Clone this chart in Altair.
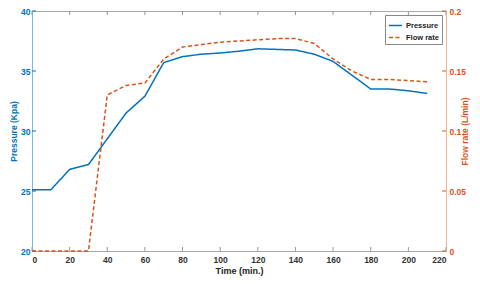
import altair as alt
import pandas as pd

time = [0, 10, 20, 30, 40, 50, 60, 70, 80, 90, 100, 110, 120, 130, 140, 150, 160, 170, 180, 190, 200, 210]
pressure = [25.1, 25.1, 26.8, 27.2, 29.35, 31.5, 32.9, 35.7, 36.2, 36.4, 36.5, 36.65, 36.85, 36.8, 36.75, 36.4,
            35.8, 34.65, 33.5, 33.5, 33.35, 33.13]
flow = [0, 0, 0, 0, 0.130, 0.138, 0.140, 0.160, 0.170, 0.172, 0.174, 0.175, 0.176, 0.177, 0.177, 0.173,
        0.160, 0.150, 0.143, 0.143, 0.142, 0.141]
series_names = ["Pressure", "Flow rate"]
x_ticks = [0, 20, 40, 60, 80, 100, 120, 140, 160, 180, 200, 220]
p_ticks = [20, 25, 30, 35, 40]
f_ticks = [0, 0.05, 0.1, 0.15, 0.2]

BLUE = "#0072BD"
ORANGE = "#D95319"
FONT = "Liberation Sans"
W, H = 414, 240

n = len(time)
df = pd.DataFrame({
    "time": time * 2,
    "series": [series_names[0]] * n + [series_names[1]] * n,
    "value": pressure + flow,
})

xscale = alt.Scale(domain=[0, 220], nice=False)
pscale = alt.Scale(domain=[20, 40], nice=False)
fscale = alt.Scale(domain=[0, 0.2], nice=False)

x_axis = alt.Axis(
    values=x_ticks, title="Time (min.)", domainColor="#aaaaaa", ticks=False, grid=False,
    labelFont=FONT, labelFontSize=8.5, labelFontWeight="bold", labelColor="#333333", labelPadding=4,
    titleFont=FONT, titleFontSize=9, titleFontWeight="bold", titleColor="#222222", titlePadding=3)
p_axis = alt.Axis(
    values=p_ticks, title="Pressure (Kpa)", orient="left", grid=False, ticks=False,
    domainColor="#7db8e3", labelColor=BLUE, titleColor=BLUE,
    labelFont=FONT, labelFontSize=8.5, labelFontWeight="bold", labelPadding=2,
    titleFont=FONT, titleFontSize=8.5, titleFontWeight="bold", titlePadding=2)
f_axis = alt.Axis(
    values=f_ticks, title="Flow rate (L/min)", orient="right", grid=False, ticks=False, format="~g",
    domainColor="#f3b495", labelColor=ORANGE, titleColor=ORANGE, titleAngle=270,
    labelFont=FONT, labelFontSize=8.5, labelFontWeight="bold", labelPadding=3,
    titleFont=FONT, titleFontSize=8.5, titleFontWeight="bold", titlePadding=4)

color_enc = alt.Color("series:N", scale=alt.Scale(domain=series_names, range=[BLUE, ORANGE]),
                      legend=alt.Legend(title=None))
dash_enc = alt.StrokeDash("series:N", scale=alt.Scale(domain=series_names, range=[[1, 0], [4, 2.5]]),
                          legend=alt.Legend(title=None))

p_line = alt.Chart(df).transform_filter(alt.datum.series == "Pressure").mark_line(strokeWidth=1.5).encode(
    x=alt.X("time:Q", scale=xscale, axis=x_axis),
    y=alt.Y("value:Q", scale=pscale, axis=p_axis),
    color=color_enc, strokeDash=dash_enc)

p_ticks_layer = alt.Chart(pd.DataFrame({"p": p_ticks})).mark_rule(color=BLUE).encode(
    y=alt.Y("p:Q", scale=pscale, axis=p_axis), x=alt.value(0), x2=alt.value(4))

xt = pd.DataFrame({"t": x_ticks})
bottom_ticks = alt.Chart(xt).mark_rule(color="#999999").encode(
    x=alt.X("t:Q", scale=xscale, axis=x_axis), y=alt.value(H - 4), y2=alt.value(H))
top_ticks = alt.Chart(xt).mark_rule(color="#999999").encode(
    x=alt.X("t:Q", scale=xscale, axis=x_axis), y=alt.value(0), y2=alt.value(4))

left = alt.layer(p_line, p_ticks_layer, bottom_ticks, top_ticks)

f_line = alt.Chart(df).transform_filter(alt.datum.series == "Flow rate").mark_line(strokeWidth=1.5).encode(
    x=alt.X("time:Q", scale=xscale, axis=x_axis),
    y=alt.Y("value:Q", scale=fscale, axis=f_axis),
    color=color_enc, strokeDash=dash_enc)

f_ticks_layer = alt.Chart(pd.DataFrame({"f": f_ticks})).mark_rule(color=ORANGE).encode(
    y=alt.Y("f:Q", scale=fscale, axis=f_axis), x=alt.value(W - 4), x2=alt.value(W))

right = alt.layer(f_line, f_ticks_layer)

chart = alt.layer(left, right).resolve_scale(y="independent").properties(
    width=W, height=H,
    autosize=alt.AutoSizeParams(type="none"),
    padding={"left": 24, "top": 3, "right": 26, "bottom": 25},
    background="white",
).configure_view(stroke="#aaaaaa", strokeWidth=1).configure_legend(
    orient="top-right", offset=4, strokeColor="#888888", fillColor="white", padding=3,
    rowPadding=1, symbolType="stroke", symbolSize=170, symbolStrokeWidth=1.5,
    labelFont=FONT, labelFontSize=7.5, labelFontWeight="bold", labelColor="#222222",
    labelOffset=3,
)

chart.save("out.html", embed_options={"renderer": "svg", "actions": False})
